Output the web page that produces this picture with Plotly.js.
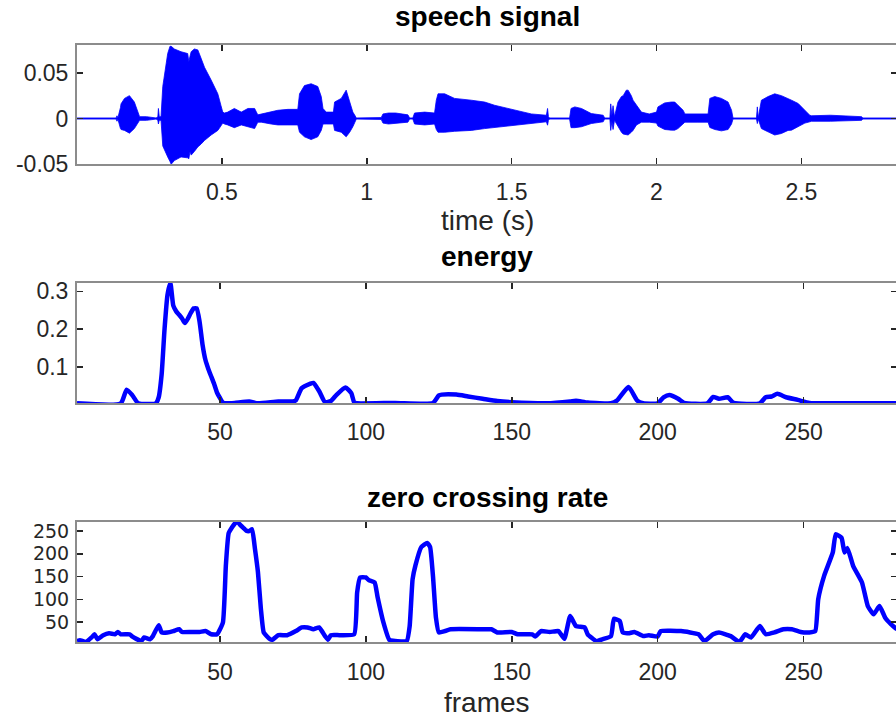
<!DOCTYPE html>
<html><head><meta charset="utf-8">
<script src="https://cdn.plot.ly/plotly-3.0.1.min.js"></script>
<style>html,body{margin:0;padding:0;overflow:hidden;background:#fff}#chart{width:900px;height:717px}</style>
</head><body><div id="chart"></div>
<script>
// ---- speech signal envelope (seconds, upper / lower amplitude) ----
const speechTime = [0,0.135,0.138,0.141,0.150,0.152,0.164,0.181,0.198,0.210,0.216,0.240,0.273,0.279,0.281,0.284,0.290,0.296,0.302,0.313,0.321,0.325,0.336,0.359,0.382,0.386,0.390,0.394,0.405,0.417,0.428,0.440,0.463,0.486,0.497,0.503,0.509,0.520,0.543,0.567,0.590,0.613,0.624,0.636,0.670,0.693,0.728,0.762,0.768,0.785,0.808,0.831,0.843,0.849,0.860,0.885,0.889,0.912,0.929,0.941,0.952,0.958,0.964,1.050,1.056,1.075,1.100,1.142,1.148,1.159,1.165,1.200,1.234,1.240,1.246,1.269,1.303,1.361,1.407,1.441,1.511,1.568,1.620,1.624,1.627,1.631,1.700,1.705,1.718,1.741,1.775,1.816,1.821,1.839,1.842,1.846,1.850,1.855,1.867,1.879,1.885,1.896,1.902,1.913,1.919,1.931,1.948,1.975,2.000,2.005,2.028,2.051,2.063,2.074,2.086,2.092,2.098,2.140,2.178,2.184,2.201,2.224,2.247,2.259,2.264,2.345,2.348,2.351,2.362,2.385,2.408,2.431,2.454,2.466,2.489,2.500,2.512,2.529,2.535,2.600,2.708,2.712,2.830];
const speechUpper = [0.0006,0.0006,0.003,0.0006,0.012,0.016,0.022,0.025,0.018,0.007,0.002,0.002,0.0006,0.002,0.011,0.002,0.002,0.035,0.049,0.071,0.079,0.079,0.076,0.073,0.071,0.062,0.068,0.073,0.076,0.075,0.066,0.056,0.042,0.027,0.014,0.007,0.006,0.007,0.011,0.007,0.011,0.011,0.004,0.005,0.007,0.009,0.010,0.010,0.027,0.036,0.038,0.035,0.024,0.011,0.007,0.007,0.018,0.022,0.031,0.018,0.007,0.004,0.0006,0.001,0.005,0.006,0.006,0.004,0.0006,0.0006,0.006,0.007,0.006,0.020,0.027,0.027,0.022,0.020,0.018,0.0145,0.009,0.005,0.0036,0.011,0.002,0.0006,0.0006,0.011,0.0127,0.011,0.0054,0.0036,0.0006,0.0006,0.016,0.003,0.014,0.002,0.018,0.024,0.025,0.031,0.031,0.025,0.020,0.0145,0.007,0.005,0.007,0.0127,0.017,0.018,0.018,0.0145,0.010,0.009,0.005,0.005,0.005,0.022,0.024,0.022,0.018,0.009,0.0006,0.0006,0.0127,0.0006,0.020,0.024,0.027,0.025,0.022,0.020,0.0164,0.013,0.009,0.0036,0.003,0.0036,0.002,0.0006,0.0006];
const speechLower = [-0.0006,-0.0006,-0.003,-0.0006,-0.011,-0.012,-0.013,-0.016,-0.011,-0.004,-0.002,-0.002,-0.0006,-0.002,-0.006,-0.002,-0.002,-0.030,-0.035,-0.042,-0.047,-0.050,-0.046,-0.042,-0.043,-0.044,-0.036,-0.040,-0.036,-0.031,-0.028,-0.024,-0.018,-0.013,-0.008,-0.005,-0.006,-0.007,-0.010,-0.007,-0.009,-0.011,-0.004,-0.004,-0.006,-0.007,-0.007,-0.007,-0.015,-0.020,-0.023,-0.020,-0.013,-0.006,-0.006,-0.006,-0.013,-0.015,-0.020,-0.015,-0.009,-0.004,-0.0006,-0.001,-0.005,-0.006,-0.005,-0.004,-0.0006,-0.0006,-0.006,-0.007,-0.006,-0.012,-0.015,-0.015,-0.014,-0.013,-0.011,-0.0098,-0.007,-0.005,-0.0036,-0.0073,-0.002,-0.0006,-0.0006,-0.010,-0.010,-0.009,-0.0055,-0.0036,-0.0006,-0.0006,-0.013,-0.003,-0.012,-0.002,-0.009,-0.015,-0.017,-0.018,-0.018,-0.015,-0.013,-0.007,-0.004,-0.004,-0.005,-0.0083,-0.012,-0.0127,-0.0127,-0.011,-0.007,-0.005,-0.004,-0.004,-0.004,-0.0098,-0.012,-0.0135,-0.012,-0.006,-0.0006,-0.0006,-0.0055,-0.0006,-0.011,-0.0146,-0.018,-0.0164,-0.013,-0.0127,-0.009,-0.0073,-0.005,-0.0036,-0.003,-0.003,-0.002,-0.0006,-0.0006];

// ---- short-time energy ----
const energyFrames = [1,16,18,20,22,28,29,30,31,32,33,34,35,36,37,38,39,40,41,42,43,44,45,46,47,48,49,50,51,52,55,60,63,70,75,76,78,81,82,84,86,88,90,93,95,96,97,110,123,125,126,131,135,140,145,150,162,170,172,176,184,186,190,193,195,200,202,204,207,209,217,219,221,224,226,235,237,239,241,244,248,252,260,282];
const energyValues = [0.004,0.004,0.040,0.025,0.004,0.004,0.020,0.080,0.200,0.290,0.322,0.262,0.247,0.238,0.228,0.216,0.228,0.243,0.255,0.255,0.220,0.160,0.119,0.095,0.075,0.055,0.032,0.018,0.006,0.004,0.005,0.009,0.004,0.009,0.009,0.012,0.044,0.056,0.058,0.036,0.007,0.010,0.027,0.046,0.031,0.006,0.004,0.005,0.005,0.025,0.027,0.027,0.022,0.016,0.010,0.007,0.004,0.009,0.011,0.006,0.004,0.011,0.047,0.011,0.004,0.004,0.020,0.026,0.016,0.005,0.004,0.021,0.016,0.020,0.005,0.004,0.020,0.022,0.029,0.020,0.013,0.005,0.004,0.004];

// ---- zero crossing rate ----
const zcrFrames = [1,2,4,6,7,8,10,12,14,15,16,19,20,23,24,26,27,29,30,32,34,36,37,40,43,45,47,49,51,52,53,55,56,57,58,59,60,61,62,63,64,65,67,68,70,73,76,78,80,82,84,86,87,88,91,96,97,98,100,101,103,104,106,108,110,114,115,116,117,119,121,122,123,124,125,127,129,140,143,145,150,152,157,158,160,163,166,168,170,172,175,176,179,181,184,185,187,188,190,192,195,197,200,201,208,214,216,219,221,225,228,230,232,235,237,240,243,246,249,252,254,255,257,260,261,263,264,265,267,270,272,274,276,278,280,282];
const zcrValues = [8,10,6,16,23,12,21,25,23,28,23,23,18,8,16,12,19,43,27,27,30,34,28,28,28,30,23,23,49,173,246,266,270,263,257,251,250,254,210,160,80,27,13,11,21,21,30,38,38,34,38,19,11,21,21,23,115,148,148,142,137,105,49,11,8,8,41,144,175,215,224,215,150,60,27,30,34,34,34,27,28,23,23,18,30,28,30,13,63,41,38,23,8,12,19,57,52,27,25,28,19,21,18,30,30,23,8,23,27,19,6,23,16,41,23,27,34,34,28,27,30,100,151,203,243,235,203,213,173,137,85,67,85,59,45,34];

// ---- ticks and labels ----
const timeTicks = [0.5,1,1.5,2,2.5];
const frameTicks = [50,100,150,200,250];
const speechYTicks = [-0.05,0,0.05];
const energyYTicks = [0.1,0.2,0.3];
const zcrYTicks = [50,100,150,200,250];
const titles = ['speech signal','energy','zero crossing rate'];
const xLabels = ['time (s)','frames'];

const blue = '#0000ff';
const FAM = 'Liberation Sans, Arial, Helvetica, sans-serif';
const tickFont = {family:FAM, size:23, color:'#262626'};
function ax(extra){
  return Object.assign({ticks:'inside', ticklen:6, tickwidth:1.5, tickcolor:'#262626',
    showline:true, linecolor:'#8c8c8c', linewidth:2, mirror:'ticks',
    showgrid:false, zeroline:false, tickfont:tickFont, fixedrange:true}, extra);
}
const lab = a => a.map(v => String(v));

const traces = [
  {x:speechTime, y:speechUpper, type:'scatter', mode:'lines', line:{color:blue, width:0.8}, xaxis:'x', yaxis:'y', hoverinfo:'skip'},
  {x:speechTime, y:speechLower, type:'scatter', mode:'lines', line:{color:blue, width:0.8}, fill:'tonexty', fillcolor:blue, xaxis:'x', yaxis:'y', hoverinfo:'skip'},
  {x:energyFrames, y:energyValues, type:'scatter', mode:'lines', line:{color:blue, width:4.5, shape:'spline', smoothing:0.5}, xaxis:'x2', yaxis:'y2'},
  {x:zcrFrames, y:zcrValues, type:'scatter', mode:'lines', line:{color:blue, width:4.5, shape:'spline', smoothing:0.4}, xaxis:'x3', yaxis:'y3'}
];

const titleFont = {family:FAM, size:28, color:'#000'};
const labelFont = {family:FAM, size:28, color:'#262626'};
const annotations = [
  {text:'<b>'+titles[0]+'</b>', y:0.9763, font:titleFont},
  {text:'<b>'+titles[1]+'</b>', y:0.6416, font:titleFont},
  {text:'<b>'+titles[2]+'</b>', y:0.3068, font:titleFont},
  {text:xLabels[0], y:0.6918, font:labelFont},
  {text:xLabels[1], y:0.0209, font:labelFont}
].map(a => Object.assign({xref:'paper', yref:'paper', x:0.5, xanchor:'center', yanchor:'middle', showarrow:false, borderpad:0}, a));

const layout = {
  width:900, height:717, margin:{l:77, r:3, t:0, b:0},
  paper_bgcolor:'#fff', plot_bgcolor:'#fff', showlegend:false,
  xaxis: ax({domain:[0,1], range:[0,2.83], tickvals:timeTicks, ticktext:lab(timeTicks), anchor:'y', ticklabelstandoff:6}),
  yaxis: ax({domain:[0.7709,0.9368], range:[-0.05,0.08], tickvals:speechYTicks, ticktext:lab(speechYTicks), anchor:'x', ticklabelstandoff:2}),
  xaxis2: ax({domain:[0,1], range:[1,282], tickvals:frameTicks, ticktext:lab(frameTicks), anchor:'y2', ticklabelstandoff:7}),
  yaxis2: ax({domain:[0.4375,0.6053], range:[0.004,0.322], tickvals:energyYTicks, ticktext:lab(energyYTicks), anchor:'x2', ticklabelstandoff:2}),
  xaxis3: ax({domain:[0,1], range:[1,282], tickvals:frameTicks, ticktext:lab(frameTicks), anchor:'y3', ticklabelstandoff:8}),
  yaxis3: ax({domain:[0.1046,0.2720], range:[6,270], tickvals:zcrYTicks, ticktext:lab(zcrYTicks), anchor:'x3', ticklabelstandoff:2, tickfont:{family:'DejaVu Sans, sans-serif', size:19, color:'#262626'}}),
  annotations: annotations
};
Plotly.newPlot('chart', traces, layout, {staticPlot:true, displayModeBar:false});
</script></body></html>
